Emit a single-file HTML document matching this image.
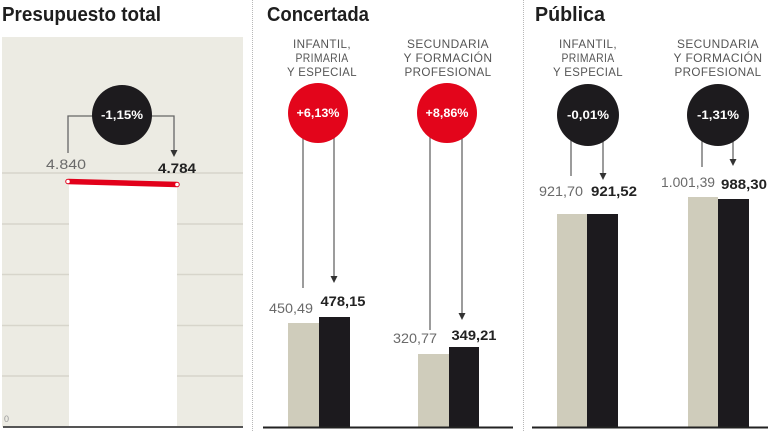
<!DOCTYPE html>
<html><head><meta charset="utf-8"><style>
html,body{margin:0;padding:0;background:#fff;}
svg{display:block;}
text{font-family:"Liberation Sans",sans-serif;}
.t{font-weight:bold;font-size:20px;fill:#1e1e1e;}
.h{font-size:12px;fill:#555;letter-spacing:0.4px;}
.v{font-size:14px;fill:#6a6a6a;}
.b{font-size:14px;fill:#222;font-weight:bold;}
.c{font-size:12px;fill:#fff;font-weight:bold;}
.ln{stroke:#666;stroke-width:1.3;fill:none;}
</style></head><body>
<svg width="768" height="432" viewBox="0 0 768 432" xmlns="http://www.w3.org/2000/svg">
<!-- separators -->
<line x1="252.5" y1="0" x2="252.5" y2="432" stroke="#b8b8b8" stroke-width="1" stroke-dasharray="1,1"/>
<line x1="523.5" y1="0" x2="523.5" y2="432" stroke="#b8b8b8" stroke-width="1" stroke-dasharray="1,1"/>

<!-- Panel 1 -->
<text class="t" x="2" y="21" textLength="159" lengthAdjust="spacingAndGlyphs">Presupuesto total</text>
<rect x="2" y="37" width="241" height="390" fill="#ecebe3"/>
<g stroke="#d7d5cb" stroke-width="1.5">
<line x1="2" y1="173" x2="243" y2="173"/>
<line x1="2" y1="224" x2="243" y2="224"/>
<line x1="2" y1="274.5" x2="243" y2="274.5"/>
<line x1="2" y1="325.5" x2="243" y2="325.5"/>
<line x1="2" y1="376" x2="243" y2="376"/>
</g>
<rect x="69" y="183" width="108" height="244" fill="#fff"/>
<line x1="3" y1="427" x2="243" y2="427" stroke="#555" stroke-width="2"/>
<text x="4" y="422" font-size="9" fill="#999">0</text>
<line x1="68" y1="181.5" x2="177" y2="184.5" stroke="#e2001a" stroke-width="5.5" stroke-linecap="round"/>
<circle cx="68" cy="181.5" r="1.8" fill="#fff"/>
<circle cx="177" cy="184.5" r="1.8" fill="#fff"/>
<path class="ln" d="M68,153 V116 H94"/>
<path class="ln" d="M150,116 H174 V151"/>
<polygon points="170.5,150 177.5,150 174,157" fill="#333"/>
<circle cx="122" cy="115" r="30" fill="#1d1b1e"/>
<text class="c" x="122" y="119" text-anchor="middle" textLength="42" lengthAdjust="spacingAndGlyphs">-1,15%</text>
<text class="v" x="66" y="169" text-anchor="middle" textLength="40" lengthAdjust="spacingAndGlyphs">4.840</text>
<text class="b" x="177" y="173" text-anchor="middle" textLength="38" lengthAdjust="spacingAndGlyphs">4.784</text>

<!-- Panel 2 -->
<text class="t" x="267" y="21" textLength="102" lengthAdjust="spacingAndGlyphs">Concertada</text>
<g class="h" text-anchor="middle">
<text class="h" x="322" y="48" textLength="58" lengthAdjust="spacingAndGlyphs">INFANTIL,</text>
<text class="h" x="322" y="62" textLength="53" lengthAdjust="spacingAndGlyphs">PRIMARIA</text>
<text class="h" x="322" y="76" textLength="70" lengthAdjust="spacingAndGlyphs">Y ESPECIAL</text>
<text class="h" x="448" y="48" textLength="82" lengthAdjust="spacingAndGlyphs">SECUNDARIA</text>
<text class="h" x="448" y="62" textLength="89" lengthAdjust="spacingAndGlyphs">Y FORMACIÓN</text>
<text class="h" x="448" y="76" textLength="87" lengthAdjust="spacingAndGlyphs">PROFESIONAL</text>
</g>
<path class="ln" d="M303,135 V288"/>
<path class="ln" d="M334,135 V277"/>
<polygon points="330.5,276 337.5,276 334,283" fill="#333"/>
<path class="ln" d="M430,135 V330"/>
<path class="ln" d="M462,135 V314"/>
<polygon points="458.5,313 465.5,313 462,320" fill="#333"/>
<circle cx="318" cy="113" r="30" fill="#e3051b"/>
<circle cx="447" cy="113" r="30" fill="#e3051b"/>
<text class="c" x="318" y="117" text-anchor="middle" textLength="43" lengthAdjust="spacingAndGlyphs">+6,13%</text>
<text class="c" x="447" y="117" text-anchor="middle" textLength="43" lengthAdjust="spacingAndGlyphs">+8,86%</text>
<rect x="288" y="323" width="31" height="104" fill="#cfccbb"/>
<rect x="319" y="317" width="31" height="110" fill="#1c1a1e"/>
<rect x="418" y="354" width="31" height="73" fill="#cfccbb"/>
<rect x="449" y="347" width="30" height="80" fill="#1c1a1e"/>
<line x1="263" y1="427.5" x2="513" y2="427.5" stroke="#222" stroke-width="2"/>
<text class="v" x="291" y="313" text-anchor="middle" textLength="44" lengthAdjust="spacingAndGlyphs">450,49</text>
<text class="b" x="343" y="306" text-anchor="middle" textLength="45" lengthAdjust="spacingAndGlyphs">478,15</text>
<text class="v" x="415" y="343" text-anchor="middle" textLength="44" lengthAdjust="spacingAndGlyphs">320,77</text>
<text class="b" x="474" y="340" text-anchor="middle" textLength="45" lengthAdjust="spacingAndGlyphs">349,21</text>

<!-- Panel 3 -->
<text class="t" x="535" y="21" textLength="70" lengthAdjust="spacingAndGlyphs">Pública</text>
<text class="h" x="588" y="48" text-anchor="middle" textLength="58" lengthAdjust="spacingAndGlyphs">INFANTIL,</text>
<text class="h" x="588" y="62" text-anchor="middle" textLength="53" lengthAdjust="spacingAndGlyphs">PRIMARIA</text>
<text class="h" x="588" y="76" text-anchor="middle" textLength="70" lengthAdjust="spacingAndGlyphs">Y ESPECIAL</text>
<text class="h" x="718" y="48" text-anchor="middle" textLength="82" lengthAdjust="spacingAndGlyphs">SECUNDARIA</text>
<text class="h" x="718" y="62" text-anchor="middle" textLength="89" lengthAdjust="spacingAndGlyphs">Y FORMACIÓN</text>
<text class="h" x="718" y="76" text-anchor="middle" textLength="87" lengthAdjust="spacingAndGlyphs">PROFESIONAL</text>
<path class="ln" d="M571,135 V176"/>
<path class="ln" d="M603,135 V174"/>
<polygon points="599.5,173 606.5,173 603,180" fill="#333"/>
<path class="ln" d="M702,135 V167"/>
<path class="ln" d="M733,135 V160"/>
<polygon points="729.5,159 736.5,159 733,166" fill="#333"/>
<circle cx="588" cy="115" r="31" fill="#1d1b1e"/>
<circle cx="718" cy="115" r="31" fill="#1d1b1e"/>
<text class="c" x="588" y="119" text-anchor="middle" textLength="42" lengthAdjust="spacingAndGlyphs">-0,01%</text>
<text class="c" x="718" y="119" text-anchor="middle" textLength="42" lengthAdjust="spacingAndGlyphs">-1,31%</text>
<text class="v" x="561" y="196" text-anchor="middle" textLength="44" lengthAdjust="spacingAndGlyphs">921,70</text>
<text class="b" x="614" y="196" text-anchor="middle" textLength="46" lengthAdjust="spacingAndGlyphs">921,52</text>
<text class="v" x="688" y="187" text-anchor="middle" textLength="54" lengthAdjust="spacingAndGlyphs">1.001,39</text>
<text class="b" x="744" y="189" text-anchor="middle" textLength="46" lengthAdjust="spacingAndGlyphs">988,30</text>
<rect x="557" y="214" width="30" height="213" fill="#cfccbb"/>
<rect x="587" y="214" width="31" height="213" fill="#1c1a1e"/>
<rect x="688" y="197" width="30" height="230" fill="#cfccbb"/>
<rect x="718" y="199" width="31" height="228" fill="#1c1a1e"/>
<line x1="532" y1="427.5" x2="768" y2="427.5" stroke="#222" stroke-width="2"/>
</svg>
</body></html>
